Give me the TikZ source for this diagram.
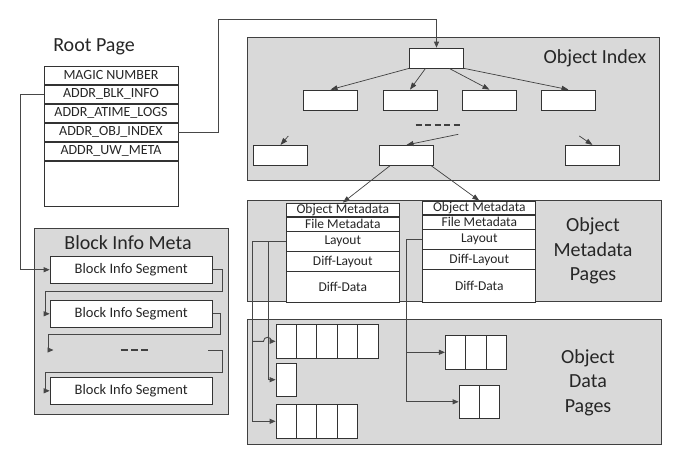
\documentclass[tikz,border=0pt]{standalone}
\usepackage{fontspec}
\setmainfont{Carlito}
\usetikzlibrary{positioning,arrows.meta,calc}

\tikzset{
  panel/.style={draw=black!75, fill=black!15, line width=0.8pt, inner sep=0pt},
  title/.style={text=black!85, inner sep=0pt, font=\fontsize{20}{24.5}\selectfont},
  row/.style={draw=black!80, fill=white, line width=0.7pt, inner sep=0pt, text=black!85,
    minimum width=134pt, minimum height=18.3pt, font=\fontsize{14}{14}\selectfont},
  mrow/.style={draw=black!80, fill=white, line width=0.7pt, inner sep=0pt, text=black!85,
    minimum width=113pt, font=\fontsize{13.5}{13.5}\selectfont},
  seg/.style={draw=black!80, fill=white, line width=0.7pt, inner sep=0pt, text=black!85,
    minimum width=162.3pt, minimum height=27.3pt, font=\fontsize{14.5}{14.5}\selectfont},
  tnode/.style={draw=black!80, fill=white, line width=0.7pt, minimum width=54pt, minimum height=20pt},
  cell/.style={draw=black!80, fill=white, line width=0.7pt, minimum width=20.4pt, minimum height=34pt},
  line/.style={draw=black!72, line width=0.9pt},
  conn/.style={line, -{Triangle[length=6pt,width=5pt]}},
  tarrow/.style={draw=black!75, line width=0.7pt, -{Triangle[length=7pt,width=5pt]}},
  dashline/.style={draw=black!75, line width=2.7pt}
}

\begin{document}
\begin{tikzpicture}[x=1pt,y=-1pt]
\useasboundingbox (0,0) rectangle (679,462);

\node[panel, minimum width=412pt, minimum height=143pt] (oipanel) at (453,108.5) {};
\node[panel, minimum width=414pt, minimum height=101pt] (mdpanel) at (454,250.5) {};
\node[panel, minimum width=414pt, minimum height=125pt] (dppanel) at (454,381.8) {};
\node[panel, minimum width=194.4pt, minimum height=186pt] (bipanel) at (131.5,321.3) {};

\node[title] (roottitle) at (94,47) {Root Page};
\node[title] (bititle) at (128,242.7) {Block Info Meta};
\node[title] (oititle) at (595,58) {Object Index};
\node[title, align=center] (mdtitle) at (593,251) {Object\\Metadata\\Pages};
\node[title, align=center] (dptitle) at (588,382.3) {Object\\Data\\Pages};

\node[row] (magic) at (111,75.2) {MAGIC NUMBER};
\node[row, below=0pt of magic] (blk) {ADDR\_BLK\_INFO};
\node[row, below=0pt of blk] (atime) {ADDR\_ATIME\_LOGS};
\node[row, below=0pt of atime] (oidx) {ADDR\_OBJ\_INDEX};
\node[row, below=0pt of oidx] (uw) {ADDR\_UW\_META};
\node[row, below=0pt of uw, minimum height=45pt] (rest) {};

\node[seg] (seg1) at (131.2,269.7) {Block Info Segment};
\node[seg] (seg2) at (131.2,313.8) {Block Info Segment};
\node[seg] (seg3) at (131.2,390.8) {Block Info Segment};
\coordinate (dotsin) at (53.5,350);
\coordinate (dotsout) at (208.3,350);
\draw[dashline, dash pattern=on 7pt off 3.3pt] (120.7,350) -- (148.3,350);

\draw[conn] (blk.west) -- ++(-23,0) |- (seg1.west);
\draw[conn] (seg1.east) -| (222.7,291.7) -| (45.3,313.8) -- (seg2.west);
\draw[conn] (seg2.east) -| (220,334.3) -| (48.7,350) -- (dotsin);
\draw[conn] (dotsout) -| (222.7,372.7) -| (45.3,390.8) -- (seg3.west);

\node[tnode] (top) at (436.5,58) {};
\node[tnode] (n1) at (330.5,100) {};
\node[tnode] (n2) at (410,100) {};
\node[tnode] (n3) at (489.5,100) {};
\node[tnode] (n4) at (568.5,100) {};
\node[tnode] (n5) at (280.5,155.3) {};
\node[tnode] (n6) at (406.5,155.3) {};
\node[tnode] (n7) at (592.5,155.3) {};
\draw[dashline, dash pattern=on 6pt off 3.5pt] (415.7,125) -- (460,125);
\coordinate (c5) at (288.3,136);
\coordinate (c6) at (458.3,134.3);
\coordinate (c7) at (579.3,136);

\draw[conn] (oidx.east) -| (218,19) -| (top.north);
\draw[tarrow] (top.south west) -- (n1.north);
\draw[tarrow] ($(top.south west)!0.3!(top.south east)$) -- (n2.north);
\draw[tarrow] ($(top.south west)!0.73!(top.south east)$) -- (n3.north);
\draw[tarrow] (top.south east) -- (n4.north);
\draw[tarrow] (c5) -- (n5.north);
\draw[tarrow] (c6) -- (n6.north);
\draw[tarrow] (c7) -- (n7.north);

\node[mrow, minimum height=13.7pt] (om1) at (342.8,209.85) {Object Metadata};
\node[mrow, minimum height=13.5pt, below=0pt of om1] (fm1) {File Metadata};
\node[mrow, minimum height=19.5pt, below=0pt of fm1] (lay1) {Layout};
\node[mrow, minimum height=19.3pt, below=0pt of lay1] (dl1) {Diff-Layout};
\node[mrow, minimum height=31pt, below=0pt of dl1] (dd1) {Diff-Data};

\node[mrow, minimum height=13.7pt] (om2) at (479.3,207.85) {Object Metadata};
\node[mrow, minimum height=13.5pt, below=0pt of om2] (fm2) {File Metadata};
\node[mrow, minimum height=19.5pt, below=0pt of fm2] (lay2) {Layout};
\node[mrow, minimum height=19.3pt, below=0pt of lay2] (dl2) {Diff-Layout};
\node[mrow, minimum height=33pt, below=0pt of dl2] (dd2) {Diff-Data};

\draw[tarrow] ($(n6.south west)!0.2!(n6.south east)$) -- (om1.north);
\draw[tarrow] ($(n6.south west)!0.95!(n6.south east)$) -- (om2.north);

\foreach \i in {0,...,4} \node[cell] (pa\i) at (286.2+20.4*\i,341.3) {};
\node[cell, minimum height=33pt] (pb0) at (286.2,379.7) {};
\foreach \i in {0,...,3} \node[cell] (pc\i) at (286.2+20.4*\i,421.3) {};
\foreach \i in {0,...,2} \node[cell] (qa\i) at (455.5+20.4*\i,352.3) {};
\foreach \i in {0,1} \node[cell, minimum height=33pt] (qb\i) at (469.2+20.4*\i,401.8) {};

\draw[conn] (lay1.west) -- ++(-33.6,0) |- (pc0.west);
\draw[conn] ([xshift=-18pt]lay1.west) |- (pb0.west);
\draw[conn] (252.7,341.3) -- (263.5,341.3) .. controls (263.5,336) and (271.5,336) .. (271.5,341.3) -- (pa0.west);
\draw[conn] (lay2.west) -- ++(-16,0) |- (qb0.west);
\draw[conn] ([xshift=-16pt]lay2.west) |- (qa0.west);
\end{tikzpicture}
\end{document}
